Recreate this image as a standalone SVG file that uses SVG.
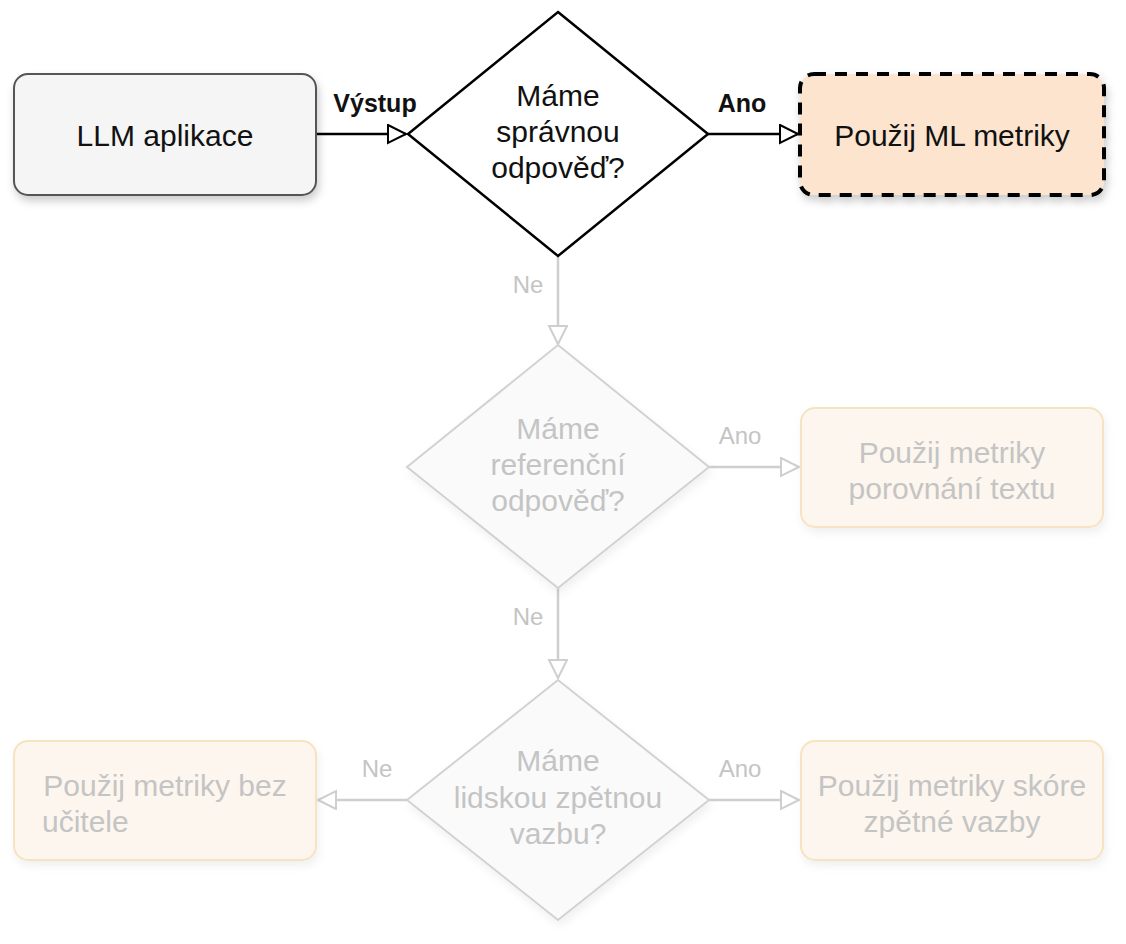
<svg xmlns="http://www.w3.org/2000/svg" width="1126" height="944" viewBox="0 0 1126 944">
<style>
text{font-family:"Liberation Sans",Arial,sans-serif;text-anchor:middle}
.t{font-size:30px;fill:#111}
.f{font-size:30px;fill:#c4c4c4}
.lb{font-size:25px;font-weight:bold;fill:#111}
.lf{font-size:24px;fill:#c4c4c4}
.c{fill:none;stroke:#000;stroke-width:2.5}
.cf{fill:none;stroke:#cfcfcf;stroke-width:2.5}
.fb{fill:#fcf6ee;stroke:#f6e3c0;stroke-width:2}
</style>
<defs>
<filter id="sh" x="-10%" y="-10%" width="130%" height="140%"><feDropShadow dx="2" dy="5" stdDeviation="4" flood-color="#000" flood-opacity="0.2"/></filter>
<filter id="shf" x="-10%" y="-10%" width="130%" height="140%"><feDropShadow dx="2" dy="5" stdDeviation="4" flood-color="#000" flood-opacity="0.06"/></filter>
<marker id="a" markerWidth="22" markerHeight="22" refX="19" refY="10" orient="auto" markerUnits="userSpaceOnUse"><path d="M1,1 L19,10 L1,19 Z" fill="#fff" stroke="#000" stroke-width="2"/></marker>
<marker id="af" markerWidth="22" markerHeight="22" refX="19" refY="10" orient="auto" markerUnits="userSpaceOnUse"><path d="M1,1 L19,10 L1,19 Z" fill="#fff" stroke="#cfcfcf" stroke-width="2"/></marker>
</defs>
<rect width="1126" height="944" fill="#fff"/>
<g id="connectors">
<path class="c" d="M316,134 L406,134" marker-end="url(#a)"/>
<path class="c" d="M708,134 L798,134" marker-end="url(#a)"/>
<path class="cf" d="M558,256 L558,344" marker-end="url(#af)"/>
<path class="cf" d="M709,467 L799,467" marker-end="url(#af)"/>
<path class="cf" d="M558,588 L558,678" marker-end="url(#af)"/>
<path class="cf" d="M709,800 L799,800" marker-end="url(#af)"/>
<path class="cf" d="M407,800 L318,800" marker-end="url(#af)"/>
<text class="lb" x="375" y="112">Výstup</text>
<text class="lb" x="742" y="112">Ano</text>
<text class="lf" x="528" y="293">Ne</text>
<text class="lf" x="740" y="444">Ano</text>
<text class="lf" x="528" y="625">Ne</text>
<text class="lf" x="740" y="777">Ano</text>
<text class="lf" x="377" y="777">Ne</text>
</g>
<g id="llm"><rect x="14" y="74" width="302" height="121" rx="14" fill="#f5f5f5" stroke="#555" stroke-width="2" filter="url(#sh)"/><text class="t" x="165" y="146">LLM aplikace</text></g>
<g id="d1"><path d="M558,12 L708,134 L558,256 L408,134 Z" fill="#fff" stroke="#000" stroke-width="2.5"/><text class="t" x="558" y="106">Máme</text><text class="t" x="558" y="142">správnou</text><text class="t" x="558" y="178">odpověď?</text></g>
<g id="ml"><rect x="800" y="74" width="304" height="121" rx="14" fill="#fce4cf" stroke="#000" stroke-width="4" stroke-dasharray="12 9" filter="url(#sh)"/><text class="t" x="952" y="146">Použij ML metriky</text></g>
<g id="d2"><path d="M558,345 L709,467 L558,588 L407,467 Z" fill="#fafafa" stroke="#d2d2d2" stroke-width="2" filter="url(#shf)"/><text class="f" x="558" y="439">Máme</text><text class="f" x="558" y="475">referenční</text><text class="f" x="558" y="511">odpověď?</text></g>
<g id="b2"><rect class="fb" x="801" y="408" width="302" height="119" rx="14" filter="url(#shf)"/><text class="f" x="952" y="463">Použij metriky</text><text class="f" x="952" y="499">porovnání textu</text></g>
<g id="d3"><path d="M558,680 L709,800 L558,920 L407,800 Z" fill="#fafafa" stroke="#d2d2d2" stroke-width="2" filter="url(#shf)"/><text class="f" x="558" y="771">Máme</text><text class="f" x="558" y="808">lidskou zpětnou</text><text class="f" x="558" y="844">vazbu?</text></g>
<g id="bl"><rect class="fb" x="14" y="741" width="302" height="119" rx="14" filter="url(#shf)"/><text class="f" x="165" y="796">Použij metriky bez</text><text class="f" x="42" y="832" style="text-anchor:start">učitele</text></g>
<g id="br"><rect class="fb" x="801" y="741" width="302" height="119" rx="14" filter="url(#shf)"/><text class="f" x="952" y="796">Použij metriky skóre</text><text class="f" x="952" y="832">zpětné vazby</text></g>
</svg>
